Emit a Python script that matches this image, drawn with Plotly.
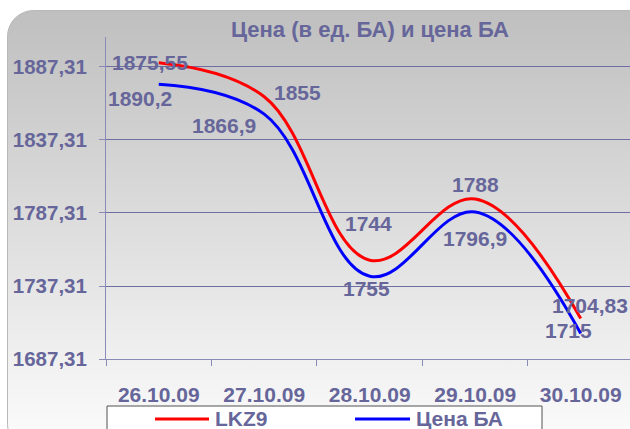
import base64
import plotly.graph_objects as go

# ---- data ----
categories = ["26.10.09", "27.10.09", "28.10.09", "29.10.09", "30.10.09"]
lkz9 = [1890.2, 1866.9, 1755, 1796.9, 1715]
cena_ba = [1875.55, 1855, 1744, 1788, 1704.83]
y_ticks = [1687.31, 1737.31, 1787.31, 1837.31, 1887.31]
y_tick_labels = ["1687,31", "1737,31", "1787,31", "1837,31", "1887,31"]
title_text = "Цена (в ед. БА) и цена БА"
series_names = ["LKZ9", "Цена БА"]

# ---- style ----
W, H = 630, 429
L, R, T, B = 106, 0, 37, 70
PW, PH = W - L - R, H - T - B
TXT = "#66669a"
GRID = "#6e6ea2"
AXIS = "#8a8ab6"
FONT = "Liberation Sans, Arial, sans-serif"
RED, BLUE = "#ff0000", "#0000ff"


def px(x):
    return (x - L) / PW


def py(y):
    return (H - B - y) / PH


def fmt(v):
    return f"{v:g}".replace(".", ",")


# background: rounded, vertically shaded frame
svg = (
    f'<svg xmlns="http://www.w3.org/2000/svg" width="{W}" height="{H}" viewBox="0 0 {W} {H}" preserveAspectRatio="none">'
    '<defs><linearGradient id="g" x1="0" y1="0" x2="0" y2="1">'
    '<stop offset="0" stop-color="#bfbfbf"/><stop offset="1" stop-color="#fdfdfd"/>'
    '</linearGradient></defs>'
    '<rect x="7.5" y="10.5" width="660" height="440" rx="26" ry="26" fill="url(#g)" stroke="#b8b8b8" stroke-width="1"/>'
    '</svg>'
)
src = "data:image/svg+xml;base64," + base64.b64encode(svg.encode()).decode()

fig = go.Figure()
fig.add_trace(go.Scatter(x=categories, y=lkz9, mode="lines", name=series_names[0],
                         line=dict(color=RED, width=3, shape="spline", smoothing=1.1),
                         showlegend=False, hoverinfo="skip"))
fig.add_trace(go.Scatter(x=categories, y=cena_ba, mode="lines", name=series_names[1],
                         line=dict(color=BLUE, width=3, shape="spline", smoothing=1.1),
                         showlegend=False, hoverinfo="skip"))

LBL = dict(size=21, color=TXT, family=FONT)
annotations = []
blue_shift = [(-9, 22), (33, 22), (-1, 53), (0, 27), (9, 28)]
red_shift = [(-19, -36), (-40, -29), (-3, -28), (0, -40), (-12, -12)]
for c, v, (dx, dy) in zip(categories, cena_ba, blue_shift):
    annotations.append(dict(x=c, y=v, xref="x", yref="y", text=f"<b>{fmt(v)}</b>", showarrow=False,
                            xshift=dx, yshift=dy, font=LBL))
for c, v, (dx, dy) in zip(categories, lkz9, red_shift):
    annotations.append(dict(x=c, y=v, xref="x", yref="y", text=f"<b>{fmt(v)}</b>", showarrow=False,
                            xshift=dx, yshift=dy, font=LBL))

# title
annotations.append(dict(x=px(370), y=py(30), xref="paper", yref="paper", text=f"<b>{title_text}</b>",
                        showarrow=False, font=dict(size=22, color=TXT, family=FONT),
                        xanchor="center", yanchor="middle"))

# legend (drawn manually)
shapes = [
    dict(type="rect", xref="paper", yref="paper", x0=px(107), x1=px(542), y0=py(406), y1=py(440),
         line=dict(color="#505050", width=1), fillcolor="white", layer="above"),
    dict(type="line", xref="paper", yref="paper", x0=px(155), x1=px(209), y0=py(419), y1=py(419),
         line=dict(color=RED, width=3), layer="above"),
    dict(type="line", xref="paper", yref="paper", x0=px(355), x1=px(410), y0=py(419), y1=py(419),
         line=dict(color=BLUE, width=3), layer="above"),
]
annotations.append(dict(x=px(213), y=py(419), xref="paper", yref="paper", text=f"<b>{series_names[0]}</b>",
                        showarrow=False, xanchor="left", yanchor="middle", font=LBL))
annotations.append(dict(x=px(414), y=py(419), xref="paper", yref="paper", text=f"<b>{series_names[1]}</b>",
                        showarrow=False, xanchor="left", yanchor="middle", font=LBL))

fig.update_layout(
    width=W, height=H,
    margin=dict(l=L, r=R, t=T, b=B, pad=0),
    paper_bgcolor="white",
    plot_bgcolor="rgba(0,0,0,0)",
    showlegend=False,
    font=dict(family=FONT, color=TXT),
    annotations=annotations,
    shapes=shapes,
    images=[dict(source=src, xref="paper", yref="paper", x=px(0), y=py(0),
                 sizex=W / PW, sizey=H / PH, xanchor="left", yanchor="top",
                 sizing="stretch", layer="below")],
)
fig.update_xaxes(
    type="category", range=[-0.5, 4.467],
    showgrid=False, zeroline=False,
    showline=True, linecolor=AXIS, linewidth=1,
    ticks="outside", tickson="boundaries", ticklen=6, tickcolor=AXIS,
    tickfont=dict(size=21, color=TXT, family=FONT, weight="bold"),
    ticklabelstandoff=17,
)
fig.update_yaxes(
    range=[1687.31, 1907.85],
    tickvals=y_ticks, ticktext=y_tick_labels,
    showgrid=True, gridcolor=GRID, gridwidth=1, zeroline=False,
    showline=True, linecolor=AXIS, linewidth=1,
    ticks="outside", ticklen=6, tickcolor=AXIS,
    tickfont=dict(size=20.5, color=TXT, family=FONT, weight="bold"),
    ticklabelstandoff=8,
)

fig.write_html("out.html", config={"displayModeBar": False},
               post_script="document.body.style.margin='0';document.body.style.overflow='hidden';")
